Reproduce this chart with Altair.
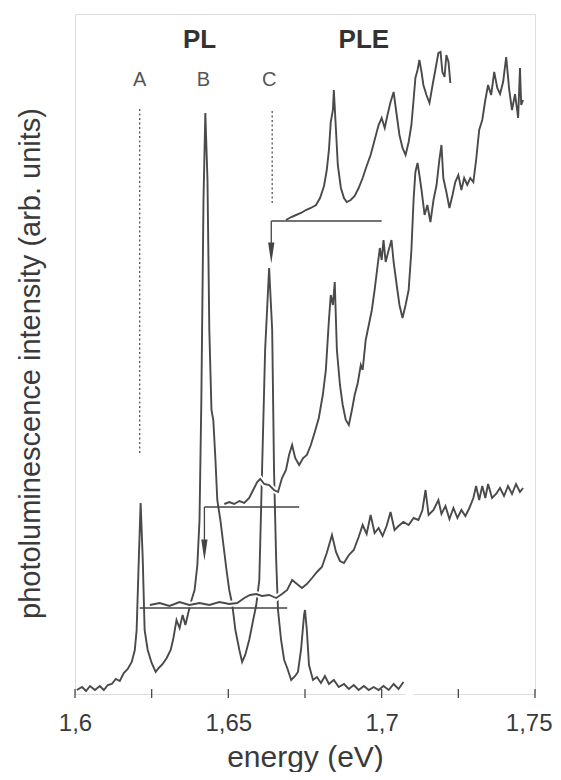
import altair as alt
import pandas as pd

# ---------------- data (energy in eV, intensity in arb. units) ----------
pl_E = [1.6006, 1.6023, 1.6036, 1.6049, 1.6065, 1.6081, 1.6094, 1.6107, 1.6120, 1.6133,
        1.6146, 1.6159, 1.6172, 1.6185, 1.6195, 1.6201, 1.6208, 1.6214, 1.6221, 1.6227,
        1.6237, 1.6250, 1.6263, 1.6273, 1.6286, 1.6299, 1.6312, 1.6321, 1.6331, 1.6341,
        1.6351, 1.6360, 1.6370, 1.6380, 1.6390, 1.6399, 1.6406, 1.6412, 1.6419, 1.6425,
        1.6432, 1.6438, 1.6445, 1.6451, 1.6458, 1.6464, 1.6474, 1.6484, 1.6494, 1.6503,
        1.6513, 1.6523, 1.6536, 1.6545, 1.6555, 1.6568, 1.6581, 1.6591, 1.6601, 1.6610,
        1.6620, 1.6633, 1.6643, 1.6649, 1.6656, 1.6662, 1.6672, 1.6682, 1.6692, 1.6705,
        1.6718, 1.6727, 1.6737, 1.6747, 1.6750, 1.6756, 1.6763, 1.6776, 1.6789, 1.6802,
        1.6815, 1.6828, 1.6844, 1.6860, 1.6877, 1.6893, 1.6909, 1.6925, 1.6942, 1.6958,
        1.6974, 1.6990, 1.7006, 1.7023, 1.7039, 1.7055, 1.7071]
pl_I = [4, 7, 3, 8, 4, 8, 4, 9, 10, 15,
        13, 21, 25, 32, 44, 64, 134, 191, 134, 64,
        44, 31, 22, 26, 30, 36, 44, 56, 74, 66,
        79, 69, 82, 94, 104, 129, 174, 294, 494, 581,
        514, 364, 284, 274, 234, 194, 174, 149, 124, 104,
        89, 64, 44, 32, 39, 54, 74, 89, 114, 224,
        344, 426, 364, 224, 134, 84, 54, 34, 26, 14,
        18, 22, 44, 79, 84, 64, 29, 14, 17, 11,
        18, 10, 14, 7, 10, 5, 9, 4, 8, 4,
        7, 4, 8, 4, 10, 5, 12]

pleA_E = [1.6244, 1.6276, 1.6308, 1.6341, 1.6373, 1.6406, 1.6438, 1.6471, 1.6503, 1.6529,
          1.6552, 1.6571, 1.6591, 1.6610, 1.6633, 1.6656, 1.6675, 1.6692, 1.6708, 1.6724,
          1.6740, 1.6756, 1.6773, 1.6789, 1.6805, 1.6821, 1.6838, 1.6851, 1.6864, 1.6877,
          1.6893, 1.6909, 1.6925, 1.6938, 1.6951, 1.6964, 1.6977, 1.6990, 1.7003, 1.7016,
          1.7029, 1.7042, 1.7055, 1.7071, 1.7088, 1.7104, 1.7120, 1.7133, 1.7143, 1.7153,
          1.7169, 1.7185, 1.7195, 1.7208, 1.7221, 1.7234, 1.7247, 1.7260, 1.7273, 1.7286,
          1.7299, 1.7308, 1.7318, 1.7328, 1.7338, 1.7347, 1.7360, 1.7373, 1.7386, 1.7399,
          1.7412, 1.7425, 1.7438, 1.7451, 1.7461]
pleA_I = [89, 91, 88, 92, 89, 91, 89, 92, 90, 91,
          96, 99, 100, 98, 99, 96, 100, 104, 114, 110,
          106, 110, 116, 122, 127, 141, 159, 142, 133, 131,
          139, 144, 157, 169, 160, 179, 161, 166, 158, 168,
          182, 164, 168, 172, 169, 176, 174, 184, 204, 179,
          184, 194, 180, 188, 175, 186, 176, 184, 178, 186,
          196, 208, 194, 208, 196, 210, 196, 200, 206, 198,
          208, 200, 210, 202, 206]

pleB_E = [1.6487, 1.6503, 1.6519, 1.6536, 1.6552, 1.6568, 1.6581, 1.6594, 1.6604, 1.6617,
          1.6633, 1.6649, 1.6662, 1.6675, 1.6688, 1.6698, 1.6708, 1.6718, 1.6731, 1.6744,
          1.6756, 1.6769, 1.6782, 1.6795, 1.6808, 1.6818, 1.6828, 1.6834, 1.6841, 1.6847,
          1.6854, 1.6864, 1.6873, 1.6883, 1.6893, 1.6903, 1.6912, 1.6922, 1.6932, 1.6938,
          1.6948, 1.6958, 1.6968, 1.6977, 1.6987, 1.6994, 1.7000, 1.7006, 1.7013, 1.7023,
          1.7032, 1.7039, 1.7049, 1.7058, 1.7068, 1.7078, 1.7088, 1.7097, 1.7104, 1.7110,
          1.7117, 1.7123, 1.7130, 1.7140, 1.7149, 1.7159, 1.7169, 1.7179, 1.7188, 1.7195,
          1.7201, 1.7211, 1.7221, 1.7231, 1.7240, 1.7250, 1.7260, 1.7269, 1.7279, 1.7289,
          1.7299, 1.7308, 1.7318, 1.7328, 1.7338, 1.7347, 1.7357, 1.7367, 1.7377, 1.7386,
          1.7396, 1.7406, 1.7416, 1.7425, 1.7435, 1.7445, 1.7451, 1.7455, 1.7461]
pleB_I = [190, 192, 190, 193, 191, 196, 204, 212, 215, 210,
          209, 204, 202, 216, 224, 239, 249, 236, 229, 236,
          239, 249, 262, 276, 299, 324, 374, 399, 389, 412,
          344, 309, 289, 274, 269, 284, 299, 311, 329, 324,
          354, 369, 384, 404, 429, 446, 434, 454, 432, 444,
          454, 432, 409, 389, 376, 389, 404, 444, 494, 522,
          531, 519, 504, 479, 489, 472, 494, 509, 534, 549,
          516, 502, 486, 499, 512, 519, 504, 516, 509, 516,
          512, 534, 564, 574, 594, 609, 599, 622, 606, 600,
          612, 637, 604, 584, 600, 576, 626, 589, 594]

pleC_E = [1.6688, 1.6705, 1.6721, 1.6737, 1.6753, 1.6769, 1.6786, 1.6799, 1.6812, 1.6821,
          1.6828, 1.6834, 1.6841, 1.6844, 1.6851, 1.6857, 1.6867, 1.6877, 1.6886, 1.6899,
          1.6912, 1.6925, 1.6938, 1.6951, 1.6964, 1.6977, 1.6990, 1.7000, 1.7010, 1.7019,
          1.7029, 1.7039, 1.7049, 1.7058, 1.7068, 1.7078, 1.7088, 1.7097, 1.7104, 1.7110,
          1.7117, 1.7123, 1.7130, 1.7136, 1.7146, 1.7156, 1.7166, 1.7175, 1.7185, 1.7192,
          1.7198, 1.7205, 1.7211, 1.7218, 1.7224]
pleC_I = [474, 477, 479, 481, 484, 486, 489, 496, 508, 524,
          544, 572, 584, 604, 564, 529, 506, 496, 492, 494,
          498, 506, 516, 528, 539, 554, 569, 576, 566, 579,
          592, 602, 579, 559, 546, 539, 552, 569, 594, 616,
          624, 634, 622, 609, 599, 591, 609, 624, 641, 642,
          622, 617, 639, 632, 611]

# PLE baselines (horizontal brackets)
base_E1 = [1.6211, 1.6422, 1.6640]
base_E2 = [1.6692, 1.6731, 1.7000]
base_I = [86, 187, 473]

# detection arrows (B and C)
arrow_E = [1.6422, 1.6640]
arrow_top = [187, 473]
arrow_tip = [134, 431]

# dotted markers above A and C
dot_E = [1.6211, 1.6643]
dot_lo = [241, 491]
dot_hi = [587, 584]

# letters and headings
letter_text = ["A", "B", "C"]
letter_E = [1.6211, 1.6419, 1.6633]
letter_I = [614, 614, 614]
head_text = ["PL", "PLE"]
head_E = [1.6406, 1.6942]
head_I = [654, 654]

# axis ticks / labels, and the break in the bottom frame line of the original
tick_E = [1.6, 1.625, 1.65, 1.675, 1.7, 1.725, 1.75]
label_values = [1.6, 1.65, 1.7, 1.75]
gap_E = [1.7078, 1.7104]

# ---------------- tables ----------------
pl = pd.DataFrame({"E": pl_E, "I": pl_I})
pleA = pd.DataFrame({"E": pleA_E, "I": pleA_I})
pleB = pd.DataFrame({"E": pleB_E, "I": pleB_I})
pleC = pd.DataFrame({"E": pleC_E, "I": pleC_I})
bases = pd.DataFrame({"E": base_E1, "E2": base_E2, "I": base_I})
arrows = pd.DataFrame({"E": arrow_E, "I": arrow_top, "I2": [t + 14 for t in arrow_tip]})
heads = pd.DataFrame({"E": arrow_E, "I": [t + 10 for t in arrow_tip]})
dots = pd.DataFrame({"E": dot_E, "I": dot_lo, "I2": dot_hi})
letters = pd.DataFrame({"E": letter_E, "I": letter_I, "t": letter_text})
headings = pd.DataFrame({"E": head_E, "I": head_I, "t": head_text})
ticks = pd.DataFrame({"E": tick_E, "I": [-4] * len(tick_E), "I2": [5] * len(tick_E)})
gap = pd.DataFrame({"E": [gap_E[0]], "E2": [gap_E[1]], "I": [0]})

FONT = "Liberation Sans"
INK = "#4a4a4a"
TXT = "#3a3a3a"

x_enc = alt.X(
    "E:Q",
    scale=alt.Scale(domain=[1.6, 1.75], nice=False, zero=False),
    axis=alt.Axis(
        values=label_values, format="~g", labelExpr="replace(datum.label, '.', ',')",
        ticks=False, domain=False, grid=False,
        labelFont=FONT, labelFontSize=24, labelColor=TXT, labelPadding=17,
        labelOverlap=False, labelFlush=False,
        labelAlign=alt.ExprRef(expr="datum.value >= 1.749 ? 'right' : 'center'"),
        labelOffset=alt.ExprRef(expr="datum.value >= 1.749 ? 17 : 0"),
        title="energy (eV)", titleFont=FONT, titleFontSize=30, titleFontWeight="normal",
        titleColor=TXT, titleY=72, titleBaseline="alphabetic",
    ),
)
y_enc = alt.Y(
    "I:Q",
    scale=alt.Scale(domain=[0, 680], nice=False, zero=False),
    axis=alt.Axis(
        labels=False, ticks=False, domain=False, grid=False,
        title="photoluminescence intensity (arb. units)", titleFont=FONT,
        titleFontSize=29, titleFontWeight="normal", titleColor=TXT,
        titleAngle=-90, titleX=-36, titleY=349, titleAlign="center",
        titleBaseline="alphabetic",
    ),
)

line_kw = dict(color=INK, strokeWidth=1.9, interpolate="linear")

pl_line = alt.Chart(pl).mark_line(**line_kw).encode(x=x_enc, y=y_enc)


def halo(df):
    return alt.Chart(df).mark_line(color="white", strokeWidth=6).encode(x=x_enc, y=y_enc)


def spec(df):
    return alt.Chart(df).mark_line(**line_kw).encode(x=x_enc, y=y_enc)


gap_rule = alt.Chart(gap).mark_rule(color="white", strokeWidth=3).encode(
    x=x_enc, x2="E2:Q", y=y_enc)
base_rules = alt.Chart(bases).mark_rule(color="#444", strokeWidth=1.3).encode(
    x=x_enc, x2="E2:Q", y=y_enc)
arrow_rules = alt.Chart(arrows).mark_rule(color="#444", strokeWidth=1.3).encode(
    x=x_enc, y=y_enc, y2="I2:Q")
arrow_heads = alt.Chart(heads).mark_point(
    shape="M-0.3,-1L0.3,-1L0,1Z", size=441, filled=True, color="#444", opacity=1,
    strokeWidth=0).encode(x=x_enc, y=y_enc)
dot_rules = alt.Chart(dots).mark_rule(color="#555", strokeWidth=1.3, strokeDash=[2, 2.5]).encode(
    x=x_enc, y=y_enc, y2="I2:Q")
tick_rules = alt.Chart(ticks).mark_rule(color=INK, strokeWidth=1.3).encode(
    x=x_enc, y=y_enc, y2="I2:Q")
letter_text_mark = alt.Chart(letters).mark_text(
    font=FONT, fontSize=20, color="#555", baseline="middle", align="center").encode(
    x=x_enc, y=y_enc, text="t:N")
head_text_mark = alt.Chart(headings).mark_text(
    font=FONT, fontSize=26, fontWeight="bold", color="#333", baseline="middle", align="center").encode(
    x=x_enc, y=y_enc, text="t:N")

chart = alt.layer(
    gap_rule,
    pl_line,
    halo(pleA), halo(pleB), halo(pleC),
    base_rules,
    spec(pleA), spec(pleB), spec(pleC),
    arrow_rules, arrow_heads, dot_rules, tick_rules,
    letter_text_mark, head_text_mark,
).properties(
    width=460, height=680,
    autosize=alt.AutoSizeParams(type="none"),
    padding={"left": 67, "top": 6, "right": 18, "bottom": 78},
).configure_view(stroke=INK, strokeWidth=1.3).configure(background="white")

chart.save("out.html", embed_options={"renderer": "svg", "actions": False})
